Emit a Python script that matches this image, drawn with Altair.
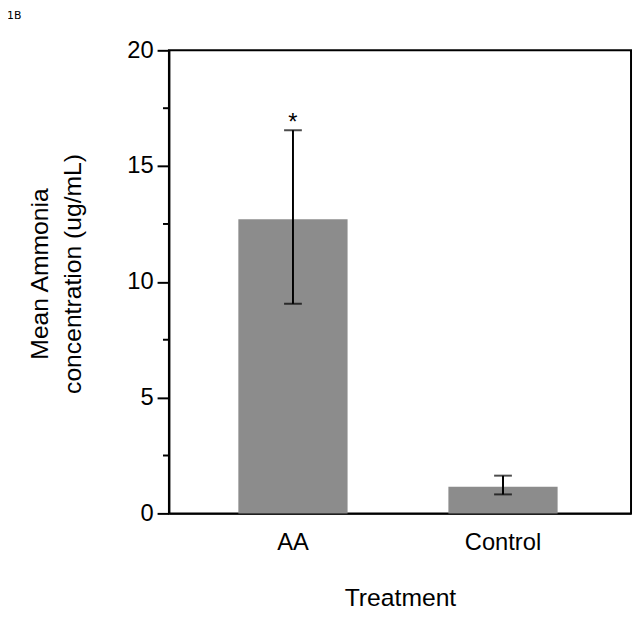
import altair as alt
import pandas as pd

treatment = ["AA", "Control"]
mean_conc = [12.7, 1.15]
err_low = [9.05, 0.82]
err_high = [16.55, 1.63]
sig_mark = ["*", ""]
major_ticks = [0, 5, 10, 15, 20]
minor_ticks = [2.5, 7.5, 12.5, 17.5]
panel_label = ["1B"]

df = pd.DataFrame({"Treatment": treatment, "mean": mean_conc,
                   "low": err_low, "high": err_high, "sig": sig_mark})
minor_df = pd.DataFrame({"v": minor_ticks})
label_df = pd.DataFrame({"t": panel_label})

FONT = "Liberation Sans"

x_enc = alt.X("Treatment:N", sort=treatment,
              scale=alt.Scale(paddingInner=0.48, paddingOuter=0.34, align=0.486),
              axis=alt.Axis(title="Treatment", labelAngle=0, ticks=False,
                            labelPadding=18, labelFontSize=24, titleFontSize=25,
                            titlePadding=31, domainColor="black", domainWidth=2,
                            labelColor="black", titleColor="black",
                            labelFont=FONT, titleFont=FONT,
                            titleFontWeight="normal", grid=False))
y_scale = alt.Scale(domain=[0, 20], nice=False, zero=True)
y_enc = alt.Y("mean:Q", scale=y_scale,
              axis=alt.Axis(values=major_ticks,
                            title=["Mean Ammonia", "concentration (ug/mL)"],
                            tickSize=12, tickWidth=2, tickColor="black",
                            domainColor="black", domainWidth=2,
                            labelPadding=4, labelFontSize=24, titleFontSize=25,
                            titleLineHeight=33, titlePadding=42, titleY=226,
                            labelColor="black", titleColor="black",
                            labelFont=FONT, titleFont=FONT,
                            titleFontWeight="normal", grid=False))

base = alt.Chart(df)
bars = base.mark_bar(color="#8c8c8c").encode(x=x_enc, y=y_enc)
err = base.mark_rule(color="black", strokeWidth=2).encode(
    x=alt.X("Treatment:N", sort=treatment),
    y=alt.Y("low:Q", scale=y_scale), y2="high:Q")
cap_lo = base.mark_tick(color="black", thickness=2, size=18).encode(
    x=alt.X("Treatment:N", sort=treatment),
    y=alt.Y("low:Q", scale=y_scale))
cap_hi = base.mark_tick(color="black", thickness=2, size=18).encode(
    x=alt.X("Treatment:N", sort=treatment),
    y=alt.Y("high:Q", scale=y_scale))
star = base.mark_text(fontSize=24, font=FONT, color="black",
                      baseline="alphabetic").encode(
    x=alt.X("Treatment:N", sort=treatment),
    y=alt.Y("high:Q", scale=y_scale), text="sig:N")
minor = alt.Chart(minor_df).mark_rule(color="black", strokeWidth=2).encode(
    y=alt.Y("v:Q", scale=y_scale),
    x=alt.value(-6), x2=alt.value(0))
tag = alt.Chart(label_df).mark_text(fontSize=11, font="DejaVu Sans", color="black",
                                    align="left", baseline="middle").encode(
    x=alt.value(-164), y=alt.value(-35), text="t:N")

chart = alt.layer(bars, err, cap_lo, cap_hi, star, minor, tag).properties(
    width=468, height=469,
    autosize=alt.AutoSizeParams(type="none"),
    padding={"left": 163, "top": 39, "right": 2, "bottom": 95},
).configure_view(stroke="black", strokeWidth=2)

chart.save("out.html", embed_options={"renderer": "svg", "actions": False})
